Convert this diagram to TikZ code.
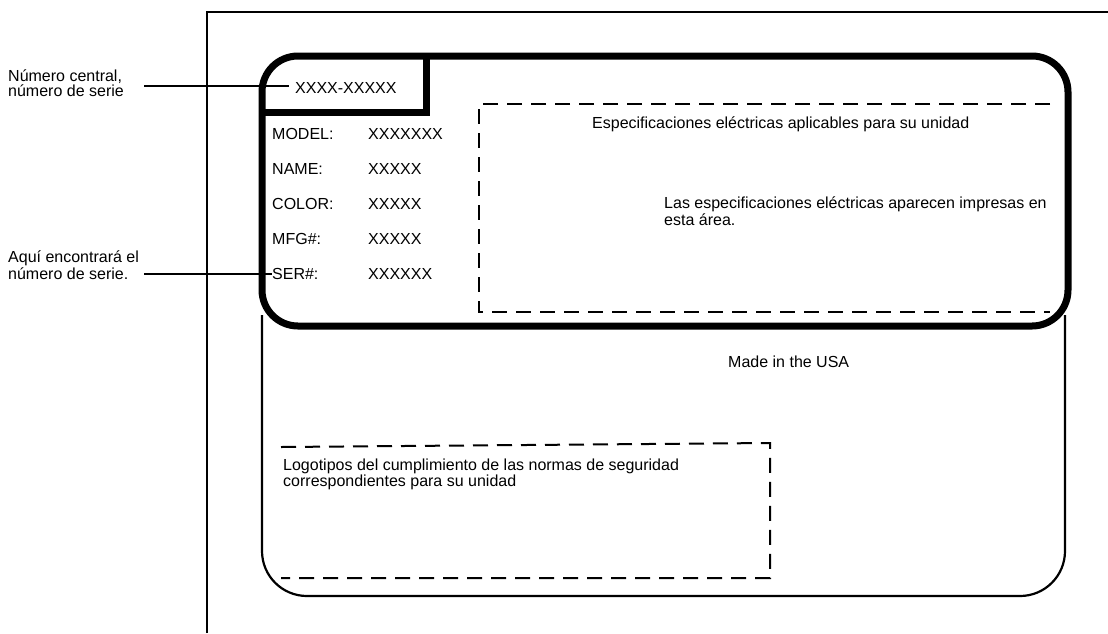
\documentclass[tikz,border=0pt]{standalone}
\usepackage{fontspec}
\setmainfont{Liberation Sans}
\tikzset{
  lbl/.style={font=\fontsize{16}{14.5}\selectfont, inner sep=0pt, align=left},
  thickborder/.style={line width=7pt},
  thinline/.style={line width=2.2pt},
  dashbox/.style={line width=2pt, dash pattern=on 15pt off 9pt},
  leader/.style={line width=2pt}
}
\begin{document}
\begin{tikzpicture}[x=1pt,y=-1pt]
\useasboundingbox (0,0) rectangle (1108,633);
% outer frame
\draw[thinline] (207,633) -- (207,12) -- (1108,12);
% lower label body
\draw[thinline, rounded corners=45pt] (262,315) -- (262,596) -- (1065,596) -- (1065,315);
% thick upper label
\draw[thickborder, rounded corners=36pt] (262,56) rectangle (1068,326);
\draw[thickborder] (262,112) -| (426,56);
% dashed areas
\draw[dashbox] (1050,104) -- (479,104) -- (479,312) -- (1050,312);
\draw[dashbox] (281,447) -- (770,443) -- (770,578) -- (281,578);
% texts
\node[lbl, anchor=base west] (idtxt) at (295,93) {XXXX-XXXXX};
\node[lbl, anchor=base west] (kmodel) at (272,139) {MODEL:};
\node[lbl, anchor=base west] (vmodel) at (368,139) {XXXXXXX};
\node[lbl, anchor=base west] (kname) at (272,174) {NAME:};
\node[lbl, anchor=base west] (vname) at (368,174) {XXXXX};
\node[lbl, anchor=base west] (kcolor) at (272,209) {COLOR:};
\node[lbl, anchor=base west] (vcolor) at (368,209) {XXXXX};
\node[lbl, anchor=base west] (kmfg) at (272,244) {MFG\#:};
\node[lbl, anchor=base west] (vmfg) at (368,244) {XXXXX};
\node[lbl, anchor=base west] (kser) at (272,279) {SER\#:};
\node[lbl, anchor=base west] (vser) at (368,279) {XXXXXX};
\node[lbl, anchor=base west] (spectitle) at (592,128) {Especificaciones eléctricas aplicables para su unidad};
\node[lbl, anchor=base west] (specbody) at (664,225) {Las especificaciones eléctricas aparecen impresas en\\esta área.};
\node[lbl, anchor=base west] (made) at (728,367) {Made in the USA};
\node[lbl, anchor=base west] (logos) at (283,486) {Logotipos del cumplimiento de las normas de seguridad\\correspondientes para su unidad};
\node[lbl, anchor=base west] (lab1) at (8,96) {Número central,\\número de serie};
\node[lbl, anchor=base west] (lab2) at (8,279) {Aquí encontrará el\\número de serie.};
% leader lines
\draw[leader] ([xshift=20pt]lab1.east |- 0,86) -- ([xshift=-6pt]idtxt.west |- 0,86);
\draw[leader] ([xshift=20pt]lab1.east |- kser.west) -- (kser.west);
\end{tikzpicture}
\end{document}
